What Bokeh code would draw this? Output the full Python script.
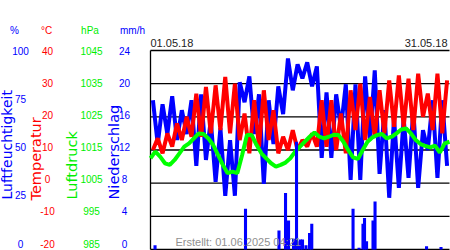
import math
from bokeh.plotting import figure
from bokeh.models import Range1d, Label
from bokeh.embed import file_html
from bokeh.resources import INLINE

# ---------------- data ----------------
# one value per day of May 2018 (day index 0..30)
temp_min = [10, 9, 11, 13, 14, 14, 15, 16, 15, 13, 9, 11, 13, 9, 10, 10,
            11, 11, 11, 10, 9, 16, 13, 14, 15, 17, 17, 16, 20, 16, 15]
temp_max = [13.5, 15, 18, 20, 27, 29, 29.5, 32, 30, 21, 25, 28, 22, 14, 16, 13,
            15, 25, 25, 21, 28, 30, 26, 28, 31, 32.5, 31.5, 33, 27, 33, 31]
hum_max = [75, 73, 77, 70, 75, 78, 65, 61, 55, 84, 87, 78, 75, 82, 96, 93,
           94, 92, 79, 78, 83, 83, 87, 90, 70, 66, 66, 70, 60, 75, 75]
hum_min = [53, 58, 55, 58, 42, 45, 34, 27, 27, 74, 58, 33, 53, 68, 80, 86,
           82, 46, 46, 61, 35, 35, 55, 38, 26, 31, 36, 31, 50, 36, 42]
# air pressure every half day, 01.05. 00h .. 01.06. 00h
pressure = [1012.5, 1014.5, 1013, 1011, 1010.5, 1012, 1014, 1016, 1017, 1018.5,
            1020, 1019.8, 1018.5, 1016.5, 1013.5, 1010.5, 1008, 1008.5, 1008, 1013.5,
            1019.5, 1019.5, 1016.5, 1014, 1012.5, 1011, 1010, 1010.5, 1011.2, 1012.5,
            1014.5, 1016, 1017.5, 1019, 1020.3, 1019, 1018.5, 1019, 1019.6, 1019.5,
            1017.5, 1015, 1012.8, 1012.3, 1015, 1017.5, 1018.8, 1019.5, 1019.8, 1018.5,
            1019, 1020, 1021.2, 1021.5, 1020, 1018, 1016.8, 1016.2, 1015.8, 1016.3,
            1014.2, 1017, 1017.5]
# precipitation events (day of month as fraction, mm/h)
precip_day = [0.47, 9.85, 13.32, 14.0, 14.31, 14.83, 15.14, 15.34, 15.55, 15.76,
              16.12, 16.49, 16.72, 21.0, 21.62, 22.03, 22.19, 22.4, 23.07, 23.28,
              28.62, 30.12]
precip_mm = [0.5, 4.9, 2.3, 6.8, 3.5, 1.3, 13.0, 1.0, 1.2, 1.2,
             0.5, 2.0, 3.1, 4.9, 0.2, 3.1, 3.8, 1.0, 3.5, 5.8,
             0.4, 0.3]

hum_ticks = ["100", "75", "50", "25", "0"]
temp_ticks = ["40", "30", "20", "10", "0", "-10", "-20"]
pres_ticks = ["1045", "1035", "1025", "1015", "1005", "995", "985"]
rain_ticks = ["24", "20", "16", "12", "8", "4", "0"]
grid_levels = [-20, -10, 0, 10, 20, 30, 40]
n_days = 31
date_first = "01.05.18"
date_last = "31.05.18"
created = "Erstellt: 01.06.2025 04:21"

# ---------------- layout ----------------
W, H = 450, 250
PL, PR, PT, PB = 150, 449, 50, 249      # plot area in canvas px
px_day = (PR - PL) / n_days
px_temp = (PB - PT) / 60.0

p = figure(width=W, height=H, output_backend="svg", toolbar_location=None,
           x_axis_type=None, y_axis_type=None, title=None, min_border=0)
p.outline_line_color = None
p.background_fill_color = "white"
p.border_fill_color = "white"
p.grid.visible = False
# the frame covers the whole canvas; data 0..31 days -> px 150..449
p.x_range = Range1d(-PL / px_day, n_days + (W - PR) / px_day)
p.y_range = Range1d(-20 - (H - PB) / px_temp, 40 + PT / px_temp)
p.extra_y_ranges = {
    "hum": Range1d(0 - (H - PB) / (px_temp * 0.6), 100 + PT / (px_temp * 0.6)),
    "pres": Range1d(985 - (H - PB) / px_temp, 1045 + PT / px_temp),
    "rain": Range1d(0 - (H - PB) / (px_temp * 2.5), 24 + PT / (px_temp * 2.5)),
}

# grid lines and left frame line
p.segment(x0=[0] * len(grid_levels), x1=[n_days] * len(grid_levels),
          y0=grid_levels, y1=grid_levels, line_color="black", line_width=1.3)
p.segment(x0=[0], x1=[0], y0=[min(grid_levels)], y1=[max(grid_levels)],
          line_color="black", line_width=1.3)

# series
t2, hum_vals, temp_vals = [], [], []
for d in range(n_days):
    t2 += [d + 0.25, d + 0.75]
    hum_vals += [hum_max[d], hum_min[d]]
    temp_vals += [temp_min[d], temp_max[d]]
t_pres = [i * 0.5 for i in range(len(pressure))]

p.line(t2, hum_vals, y_range_name="hum", line_color="#0000ff", line_width=4)
p.line(t2, temp_vals, line_color="#ff0000", line_width=4)
p.line(t_pres, pressure, y_range_name="pres", line_color="#00ff00", line_width=4)
p.vbar(x=precip_day, top=precip_mm, bottom=0, width=0.32, y_range_name="rain",
       fill_color="#0000ff", line_color=None)

FONT = "Liberation Sans"


def put(text, cx, cy, color, size="10px", align="center", angle=0.0, font=FONT):
    p.add_layout(Label(x=cx, y=H - cy, x_units="screen", y_units="screen",
                       text=text, text_color=color, text_font=font,
                       text_font_size=size, text_align=align,
                       text_baseline="middle", angle=angle))


BLUE, RED, GREEN = "#0000ff", "#ff0000", "#00ee00"
# unit row
put("%", 14, 30, BLUE)
put("°C", 46, 30, RED)
put("hPa", 89.5, 30, GREEN)
put("mm/h", 132, 30, BLUE)
# tick labels
for i, s in enumerate(hum_ticks):
    put(s, 20, 50 + i * 48.25, BLUE)
for i, s in enumerate(temp_ticks):
    put(s, 47, 50 + i * 32.17, RED)
for i, s in enumerate(pres_ticks):
    put(s, 91, 50 + i * 32.17, GREEN)
for i, s in enumerate(rain_ticks):
    put(s, 124, 50 + i * 32.17, BLUE)
# rotated titles
TF = "DejaVu Sans"
put("Luftfeuchtigkeit", 6, 199, BLUE, "14px", "left", math.pi / 2, TF)
put("Temperatur", 35, 200, RED, "14.5px", "left", math.pi / 2, TF)
put("Luftdruck", 71, 199, GREEN, "14.5px", "left", math.pi / 2, TF)
put("Niederschlag", 113, 199, BLUE, "14.5px", "left", math.pi / 2, TF)
# dates and footer
put(date_first, 150, 42.5, "#222222", "11px", "left")
put(date_last, 447, 42.5, "#222222", "11px", "right")
put(created, 175, 241, "#909090", "11px", "left")

open("out.html", "w").write(file_html(p, INLINE))
